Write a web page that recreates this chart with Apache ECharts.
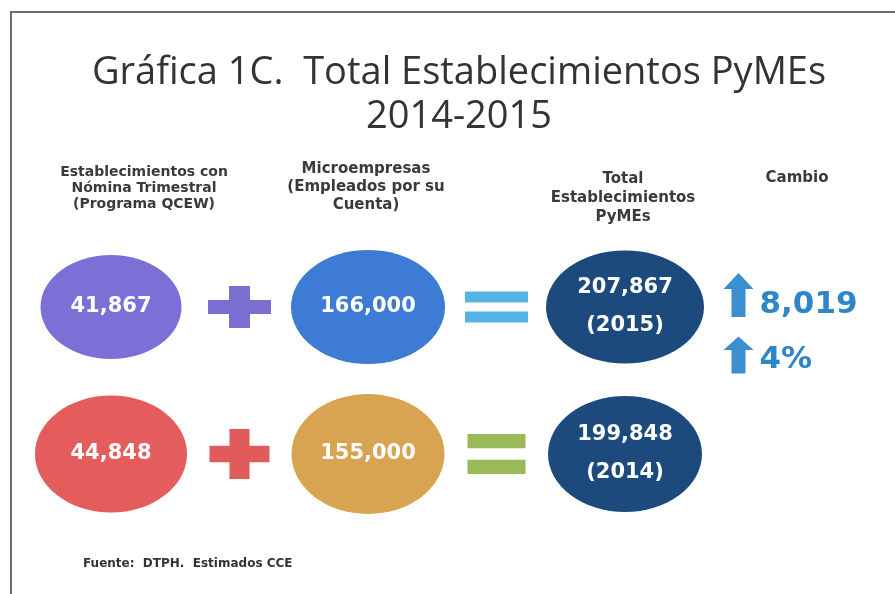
<!doctype html>
<html>
<head>
    <meta charset="utf-8">
    <title>Gráfica 1C</title>
    <style>
        html, body { margin: 0; padding: 0; background: #ffffff; }
        #main { width: 895px; height: 594px; }
    </style>
</head>
<body>
    <div id="main"></div>
    <script src="https://cdn.jsdelivr.net/npm/echarts@6/dist/echarts.min.js"></script>
    <script>
        // datos
        var years = ['2015', '2014'];
        var nominaTrimestral = [41867, 44848];
        var microempresas = [166000, 155000];
        var totalPymes = [207867, 199848];
        var cambioAbs = 8019;
        var cambioPct = 4;
        var headers = [
            'Establecimientos con\nNómina Trimestral\n(Programa QCEW)',
            'Microempresas\n(Empleados por su\nCuenta)',
            'Total\nEstablecimientos\nPyMEs',
            'Cambio'
        ];
        var fuente = 'Fuente:  DTPH.  Estimados CCE';

        // estilos
        var ovalColors = [['#7b70d6', '#3d7bd4', '#1d4a7c'], ['#e45c5c', '#d9a452', '#1d4a7c']];
        var ovalSizes = [[[141, 104], [154, 114], [158, 113]], [[152, 117], [153, 120], [154, 116]]];
        var opColors = [['#7a6fd0', '#55b4e6'], ['#e25b5b', '#9aba5a']];
        var opSizes = [[[63, 42], [63, 31]], [[60, 50], [58, 40]]];
        var plusPath = 'path://M21,0 H42 V14 H63 V28 H42 V42 H21 V28 H0 V14 H21 Z';
        var equalsPath = 'path://M0,0 H60 V11 H0 Z M0,20 H60 V31 H0 Z';
        var arrowPath = 'path://M15,0 L30,16 H22 V44 H8 V16 H0 Z';
        var textBlue = '#2e86c8';
        var headFont = 'bold 15px "DejaVu Sans", sans-serif';

        function fmt(n) {
            return n.toLocaleString('en-US');
        }

        var ovals = [];
        var ops = [];
        years.forEach(function (y, i) {
            [nominaTrimestral[i], microempresas[i], totalPymes[i]].forEach(function (v, j) {
                ovals.push({
                    value: [j * 2, i, v],
                    symbolSize: ovalSizes[i][j],
                    itemStyle: { color: ovalColors[i][j] }
                });
            });
            ops.push({ value: [1, i], symbol: plusPath, symbolSize: opSizes[i][0], itemStyle: { color: opColors[i][0] } });
            ops.push({ value: [3, i], symbol: equalsPath, symbolSize: opSizes[i][1], itemStyle: { color: opColors[i][1] } });
        });

        var cambios = [
            { value: [5, 0, fmt(cambioAbs)], symbolSize: [30, 44], symbolOffset: [-15, -12], label: { offset: [0, 10] } },
            { value: [5, 0, cambioPct + '%'], symbolSize: [30, 37], symbolOffset: [-15, 48], label: { offset: [0, 5] } }
        ];

        var myChart = echarts.init(document.getElementById('main'));

        var option = {
            backgroundColor: '#ffffff',
            animation: false,
            grid: { left: 46.75, right: 77.25, top: 233.5, bottom: 66.5 },
            xAxis: { type: 'value', min: -0.5, max: 5.5, show: false },
            yAxis: { type: 'value', min: -0.5, max: 1.5, inverse: true, show: false },
            graphic: [
                { type: 'line', shape: { x1: 10, y1: 12, x2: 895, y2: 12 }, style: { stroke: '#6e6e6e', lineWidth: 2 } },
                { type: 'line', shape: { x1: 11, y1: 12, x2: 11, y2: 594 }, style: { stroke: '#6e6e6e', lineWidth: 2 } },
                {
                    type: 'text', x: 459, y: 51,
                    style: {
                        text: 'Gráfica 1C.  Total Establecimientos PyMEs\n2014-2015',
                        align: 'center', verticalAlign: 'top',
                        font: '38px "Open Sans", sans-serif', lineHeight: 44, fill: '#333333'
                    }
                },
                {
                    type: 'text', x: 144, y: 164,
                    style: { text: headers[0], align: 'center', font: 'bold 14px "DejaVu Sans", sans-serif', lineHeight: 16, fill: '#3a3a3a' }
                },
                {
                    type: 'text', x: 366, y: 160,
                    style: { text: headers[1], align: 'center', font: headFont, lineHeight: 18, fill: '#3a3a3a' }
                },
                {
                    type: 'text', x: 623, y: 170,
                    style: { text: headers[2], align: 'center', font: headFont, lineHeight: 19, fill: '#3a3a3a' }
                },
                {
                    type: 'text', x: 797, y: 171,
                    style: { text: headers[3], align: 'center', font: headFont, fill: '#3a3a3a' }
                },
                {
                    type: 'text', x: 83, y: 558,
                    style: { text: fuente, font: 'bold 12px "DejaVu Sans", sans-serif', fill: '#333333' }
                }
            ],
            series: [
                {
                    type: 'scatter',
                    symbol: 'circle',
                    data: ovals,
                    itemStyle: { opacity: 1 },
                    label: {
                        show: true,
                        position: 'inside',
                        color: '#ffffff',
                        fontFamily: 'DejaVu Sans',
                        fontWeight: 'bold',
                        fontSize: 21,
                        lineHeight: 38,
                        formatter: function (p) {
                            var t = fmt(p.value[2]);
                            if (p.value[0] === 4) t += '\n(' + years[p.value[1]] + ')';
                            return t;
                        }
                    }
                },
                {
                    type: 'scatter',
                    data: ops,
                    itemStyle: { opacity: 1 }
                },
                {
                    type: 'scatter',
                    symbol: arrowPath,
                    data: cambios,
                    itemStyle: { color: '#3a8fd0', opacity: 1 },
                    label: {
                        show: true,
                        position: 'right',
                        distance: 6,
                        color: textBlue,
                        fontFamily: 'DejaVu Sans',
                        fontWeight: 'bold',
                        fontSize: 31,
                        formatter: function (p) { return p.value[2]; }
                    }
                }
            ]
        };

        myChart.setOption(option);
    </script>
</body>
</html>
